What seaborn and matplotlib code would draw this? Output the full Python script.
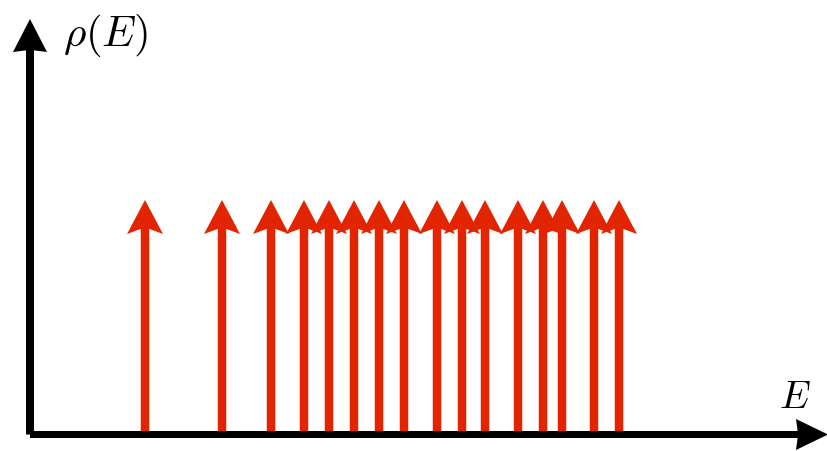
import matplotlib
matplotlib.use("Agg")
import matplotlib.pyplot as plt
import seaborn as sns

# Energy levels (arbitrary units) and the weight of each delta peak
energies = [1.15, 1.92, 2.41, 2.74, 2.99, 3.24, 3.49, 3.74,
            4.07, 4.32, 4.55, 4.88, 5.13, 5.32, 5.64, 5.89]
weights = [1.0] * len(energies)
x_label = r"$E$"
y_label = r"$\rho(E)$"

sns.set_theme(style="white")
plt.rcParams["mathtext.fontset"] = "cm"

W, H = 828, 452
fig = plt.figure(figsize=(W / 100, H / 100), dpi=100)
ax = fig.add_axes([0, 0, 1, 1])
ax.set_axis_off()

# pixel-to-data scales: 100 px per unit in x, 234.5 px per unit in y
px_x, px_y = 100.0, 234.5
x0_px, y0_px = 30.0, 435.5
ax.set_xlim(-x0_px / px_x, (W - x0_px) / px_x)
ax.set_ylim(-(H - y0_px) / px_y, y0_px / px_y)

red = "#E22500"

# delta peaks as upward arrows
for e, w in zip(energies, weights):
    ax.arrow(e, 0, 0, w, width=8.5 / px_x, head_width=36 / px_x,
             head_length=34 / px_y, overhang=0.15,
             length_includes_head=True, color=red, lw=0, zorder=2)

# coordinate axes with arrowheads
ax.arrow(0, 0, (W - x0_px) / px_x, 0, width=7 / px_y, head_width=31 / px_y,
         head_length=32 / px_x, overhang=0.05, length_includes_head=True,
         color="black", lw=0, zorder=3)
ax.arrow(0, 0, 0, (y0_px - 20) / px_y, width=8 / px_x, head_width=34 / px_x,
         head_length=33 / px_y, overhang=0.05, length_includes_head=True,
         color="black", lw=0, zorder=3)

fig.text(63 / W, 1 - 46 / H, y_label, fontsize=31, va="baseline", ha="left",
         color="black")
fig.text(779 / W, 1 - 408 / H, x_label, fontsize=28, va="baseline", ha="left",
         color="black")

fig.savefig("out.png", dpi=100, facecolor="white")
